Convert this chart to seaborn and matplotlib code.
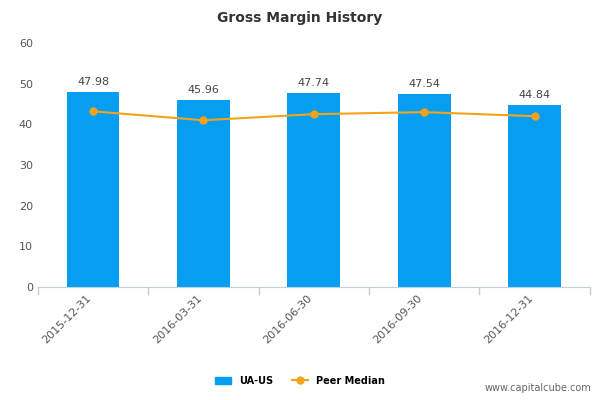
import matplotlib
matplotlib.use("Agg")
import matplotlib.pyplot as plt
import seaborn as sns
import numpy as np

dates = ["2015-12-31", "2016-03-31", "2016-06-30", "2016-09-30", "2016-12-31"]
ua_us = [47.98, 45.96, 47.74, 47.54, 44.84]
peer_median = [43.2, 41.0, 42.5, 43.0, 42.0]

fig = plt.figure(figsize=(6, 4), dpi=100)
ax = fig.add_axes([0.063, 0.2825, 0.92, 0.61])

x = np.arange(len(dates))
sns.barplot(x=x, y=ua_us, color="#069ef0", width=0.48, saturation=1, ax=ax)
ax.plot(x, peer_median, color="#f5a31a", lw=1.5, marker="o", ms=5, zorder=3)

for xi, v in zip(x, ua_us):
    ax.text(xi, v + 1.2, f"{v:.2f}", ha="center", va="bottom", fontsize=8, color="#444444")

ax.set_ylim(0, 60)
ax.set_xlim(-0.5, len(dates) - 0.5)
ax.set_yticks(range(0, 61, 10))
ax.set_xticks(x)
ax.set_xticklabels(dates, rotation=45, ha="right", fontsize=8, color="#555555")
ax.tick_params(axis="y", labelsize=8, colors="#555555", length=0)
ax.tick_params(axis="x", length=0, pad=4)
for s in ["top", "right", "left"]:
    ax.spines[s].set_visible(False)
ax.spines["bottom"].set_color("#c0d0e0")
for b in np.arange(-0.5, len(dates), 1):
    ax.plot([b, b], [0, -1.8], color="#c0d0e0", lw=1, clip_on=False)

fig.text(0.5, 0.955, "Gross Margin History", ha="center", va="center",
         fontsize=10, fontweight="bold", color="#333333")

h1 = plt.Rectangle((0, 0), 1, 1, color="#069ef0")
h2, = ax.plot([], [], color="#f5a31a", marker="o", ms=5, lw=1.5)
fig.legend([h1, h2], ["UA-US", "Peer Median"], loc="center", bbox_to_anchor=(0.5, 0.048),
           ncol=2, frameon=False, prop={"size": 7, "weight": "bold"}, handlelength=1.6)
fig.text(0.985, 0.018, "www.capitalcube.com", ha="right", va="bottom", fontsize=7, color="#666666")

fig.savefig("out.png", dpi=100)
